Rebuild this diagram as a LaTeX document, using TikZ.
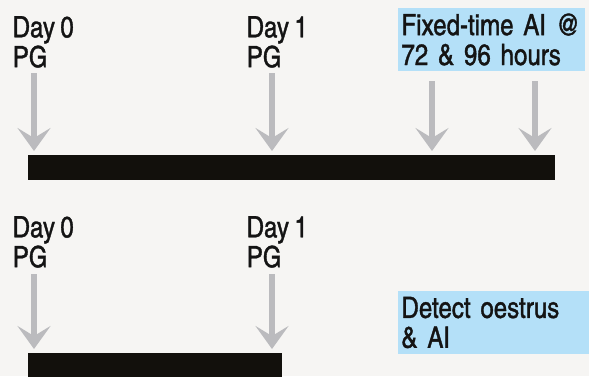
\documentclass[tikz,border=0pt]{standalone}
\usepackage{fontspec}
\setmainfont{texgyreheroscn-regular.otf}[FakeBold=1.2, WordSpace=0.8]
\usetikzlibrary{arrows.meta}

\definecolor{bggrey}{RGB}{246,245,243}
\definecolor{arrowgrey}{RGB}{187,187,190}
\definecolor{barblack}{RGB}{18,16,12}
\definecolor{boxblue}{RGB}{180,224,248}
\definecolor{textblack}{RGB}{20,20,20}

\tikzset{
  daylabel/.style={anchor=north west, inner sep=0pt, align=left, text=textblack,
    font=\fontsize{29.5}{30}\selectfont},
  bluebox/.style={daylabel, fill=boxblue, inner xsep=3.5bp, inner ysep=0pt,
    text width=180bp, minimum height=63bp, outer sep=0pt},
  timebar/.style={fill=barblack, inner sep=0pt, outer sep=0pt, anchor=north west,
    minimum height=25bp},
  pgarrow/.style={arrowgrey, line width=6bp, shorten >=4bp,
    -{Stealth[length=23bp, width=33bp, inset=10bp]}}
}

\begin{document}
\begin{tikzpicture}[x=1bp, y=-1bp]
            \useasboundingbox (0,0) rectangle (589,376);
            \fill[bggrey] (0,0) rectangle (589,376);

            % fixed-time AI
            \node[daylabel] (topday0) at (12.5,16) {Day 0\\PG};
            \node[daylabel] (topday1) at (246.5,16) {Day 1\\PG};
            \node[bluebox] (fixedai) at (398,8) {Fixed-time AI @\\72 \& 96 hours};
            \node[timebar, minimum width=527bp] (topbar) at (28,155) {};
            \coordinate (topa0) at (34,73);
            \coordinate (topa1) at (272,73);
            \coordinate (topa72) at (432,81);
            \coordinate (topa96) at (535,81);
            \draw[pgarrow] (topa0) -- (topa0 |- topbar.north);
            \draw[pgarrow] (topa1) -- (topa1 |- topbar.north);
            \draw[pgarrow] (topa72) -- (topa72 |- topbar.north);
            \draw[pgarrow] (topa96) -- (topa96 |- topbar.north);

            % oestrus detection
            \node[daylabel] (lowday0) at (12.5,216) {Day 0\\PG};
            \node[daylabel] (lowday1) at (246.5,216) {Day 1\\PG};
            \node[bluebox, text width=190bp] (detect) at (398,291) {Detect oestrus\\\& AI};
            \node[timebar, minimum width=254bp] (lowbar) at (28,353) {};
            \coordinate (lowa0) at (34,274);
            \coordinate (lowa1) at (272,274);
            \draw[pgarrow] (lowa0) -- (lowa0 |- lowbar.north);
            \draw[pgarrow] (lowa1) -- (lowa1 |- lowbar.north);
        \end{tikzpicture}
\end{document}
